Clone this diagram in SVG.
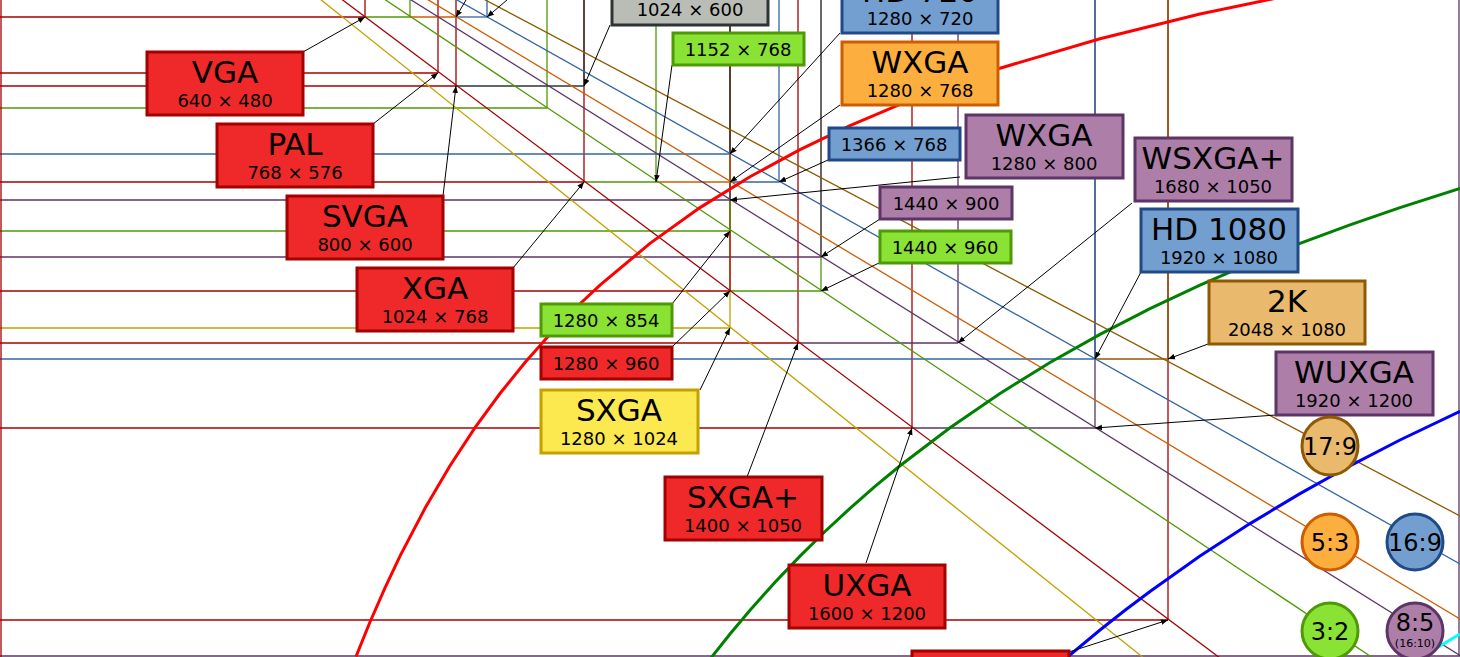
<svg xmlns="http://www.w3.org/2000/svg" width="1460" height="657" viewBox="0 0 1460 657">
<defs>
<style>
.ln{fill:none;stroke-width:1.3}
.r{stroke:#a40000}.g{stroke:#4e9a06}.o{stroke:#ce5c00}.b{stroke:#3465a4}.p{stroke:#5c3566}.br{stroke:#8f5902}.y{stroke:#c4a000}.k{stroke:#2e3436}
.cv{fill:none;stroke-width:3}
.box{stroke-width:3}
.fr{fill:#ef2929;stroke:#a40000}.fg{fill:#8ae234;stroke:#4e9a06}.fo{fill:#fcaf3e;stroke:#ce5c00}.fb{fill:#729fcf;stroke:#204a87}.fp{fill:#ad7fa8;stroke:#5c3566}.fbr{fill:#e9b96e;stroke:#8f5902}.fy{fill:#fce94f;stroke:#c4a000}.fk{fill:#babdb6;stroke:#2e3436}
text{font-family:"DejaVu Sans","Liberation Sans",sans-serif;text-anchor:middle;fill:#000}
.t{font-size:31px}.s{font-size:18px}.c{font-size:24px}
.ar{stroke:#000;stroke-width:1;fill:none;marker-end:url(#ah)}
</style>
<marker id="ah" viewBox="0 0 10 10" refX="10" refY="5" markerWidth="7" markerHeight="7" orient="auto"><path d="M0,1 L10,5 L0,9 z" fill="#000"/></marker>
</defs>
<rect width="1460" height="657" fill="#fff"/>
<g id="grid">
<line class="ln p" x1="0" y1="656" x2="1460" y2="656"/><line class="ln p" x1="1459" y1="0" x2="1459" y2="656"/>
<line class="ln r" x1="0" y1="620" x2="1168" y2="620"/><line class="ln r" x1="1168" y1="0" x2="1168" y2="620"/>
<line class="ln r" x1="0" y1="428" x2="912" y2="428"/><line class="ln p" x1="912" y1="428" x2="1095" y2="428"/>
<line class="ln r" x1="912" y1="0" x2="912" y2="428"/><line class="ln p" x1="1095" y1="0" x2="1095" y2="428"/>
<line class="ln b" x1="0" y1="359" x2="1095" y2="359"/><line class="ln br" x1="1095" y1="359" x2="1168" y2="359"/>
<line class="ln br" x1="1168" y1="0" x2="1168" y2="359"/><line class="ln b" x1="1095" y1="0" x2="1095" y2="359"/>
<line class="ln r" x1="0" y1="343" x2="798" y2="343"/><line class="ln p" x1="798" y1="343" x2="958" y2="343"/>
<line class="ln r" x1="798" y1="0" x2="798" y2="343"/><line class="ln p" x1="958" y1="0" x2="958" y2="343"/>
<line class="ln y" x1="0" y1="328" x2="730" y2="328"/><line class="ln y" x1="730" y1="0" x2="730" y2="328"/>
<line class="ln r" x1="0" y1="291" x2="730" y2="291"/><line class="ln g" x1="730" y1="291" x2="821" y2="291"/>
<line class="ln r" x1="730" y1="0" x2="730" y2="291"/><line class="ln g" x1="821" y1="0" x2="821" y2="291"/>
<line class="ln p" x1="0" y1="257" x2="821" y2="257"/><line class="ln p" x1="821" y1="0" x2="821" y2="257"/>
<line class="ln g" x1="0" y1="231" x2="730" y2="231"/><line class="ln g" x1="730" y1="0" x2="730" y2="231"/>
<line class="ln p" x1="0" y1="200" x2="730" y2="200"/><line class="ln p" x1="730" y1="0" x2="730" y2="200"/>
<line class="ln r" x1="0" y1="182" x2="584" y2="182"/><line class="ln g" x1="584" y1="182" x2="656" y2="182"/><line class="ln o" x1="656" y1="182" x2="730" y2="182"/><line class="ln b" x1="730" y1="182" x2="779" y2="182"/>
<line class="ln r" x1="584" y1="0" x2="584" y2="182"/><line class="ln g" x1="656" y1="0" x2="656" y2="182"/><line class="ln o" x1="730" y1="0" x2="730" y2="182"/><line class="ln b" x1="779" y1="0" x2="779" y2="182"/>
<line class="ln b" x1="0" y1="154" x2="730" y2="154"/><line class="ln k" x1="730" y1="0" x2="730" y2="154"/>
<line class="ln g" x1="0" y1="108" x2="547" y2="108"/><line class="ln g" x1="547" y1="0" x2="547" y2="108"/>
<line class="ln r" x1="0" y1="86" x2="456" y2="86"/><line class="ln k" x1="456" y1="86" x2="584" y2="86"/>
<line class="ln r" x1="456" y1="0" x2="456" y2="86"/><line class="ln k" x1="584" y1="0" x2="584" y2="86"/>
<line class="ln r" x1="0" y1="73" x2="438" y2="73"/><line class="ln r" x1="438" y1="0" x2="438" y2="73"/>
<line class="ln r" x1="0" y1="17" x2="365" y2="17"/><line class="ln g" x1="365" y1="17" x2="410" y2="17"/><line class="ln o" x1="410" y1="17" x2="456" y2="17"/><line class="ln b" x1="456" y1="17" x2="487" y2="17"/>
<line class="ln r" x1="365" y1="0" x2="365" y2="17"/><line class="ln g" x1="410" y1="0" x2="410" y2="17"/><line class="ln b" x1="487" y1="0" x2="487" y2="17"/>
<line class="ln r" x1="1" y1="0" x2="1" y2="657"/>
<line class="ln br" x1="0" y1="-257" x2="1460" y2="516"/>
<line class="ln b" x1="0" y1="-257" x2="1460" y2="564"/>
<line class="ln o" x1="0" y1="-257" x2="1460" y2="619"/>
<line class="ln p" x1="0" y1="-257" x2="1460" y2="655.5"/>
<line class="ln g" x1="0" y1="-257" x2="1460" y2="716"/>
<line class="ln r" x1="0" y1="-257" x2="1460" y2="838"/>
<line class="ln y" x1="0" y1="-257" x2="1460" y2="911"/>
<polyline class="cv" stroke="#f00" points="356,656.6 370,622 385,587.8 400,556.1 425,508.3 450,465.8 475,427.7 500,393.5 525,362.5 550,334.3 575,308.5 600,285.1 650,243.4 700,207.6 750,176.7 800,149.6 850,125.6 900,104.4 950,85.4 1000,68.2 1100,38.7 1200,14 1300,-6.8"/>
<polyline class="cv" stroke="#008000" points="711,657.9 730,634 750,610.3 775,582.3 800,556.1 825,531.5 850,508.3 875,486.4 900,465.8 950,427.7 1000,393.5 1050,362.5 1100,334.4 1150,308.6 1200,285.1 1250,263.4 1300,243.4 1350,224.8 1400,207.6 1460,188.5"/>
<polyline class="cv" stroke="#00f" points="1067,657.5 1100,630 1125,610.3 1150,591.5 1200,556.1 1250,523.6 1300,493.6 1350,465.8 1400,440 1460,411.3"/>
<polyline class="cv" stroke="#0ff" points="1423,657.2 1440,646 1460,634"/>
</g>
<g id="connectors">
<line class="ar" x1="303" y1="52" x2="365" y2="17"/>
<line class="ar" x1="373" y1="124" x2="438" y2="73"/>
<line class="ar" x1="443" y1="196" x2="456" y2="86"/>
<line class="ar" x1="513" y1="268" x2="584" y2="182"/>
<line class="ar" x1="610" y1="25" x2="584" y2="86"/>
<line class="ar" x1="672" y1="65" x2="656" y2="182"/>
<line class="ar" x1="840" y1="33" x2="730" y2="154"/>
<line class="ar" x1="840" y1="105" x2="730" y2="182"/>
<line class="ar" x1="828" y1="160" x2="779" y2="182"/>
<line class="ar" x1="960" y1="177" x2="730" y2="200"/>
<line class="ar" x1="880" y1="219" x2="821" y2="257"/>
<line class="ar" x1="879" y1="263" x2="821" y2="291"/>
<line class="ar" x1="672" y1="304" x2="730" y2="231"/>
<line class="ar" x1="672" y1="347" x2="730" y2="291"/>
<line class="ar" x1="700" y1="390" x2="730" y2="328"/>
<line class="ar" x1="747" y1="477" x2="798" y2="343"/>
<line class="ar" x1="866" y1="563" x2="912" y2="428"/>
<line class="ar" x1="1132" y1="203" x2="958" y2="343"/>
<line class="ar" x1="1141" y1="272" x2="1095" y2="359"/>
<line class="ar" x1="1208" y1="344" x2="1168" y2="359"/>
<line class="ar" x1="1276" y1="415" x2="1095" y2="428"/>
<line class="ar" x1="1069" y1="652" x2="1168" y2="620"/>
<line class="ar" x1="466" y1="0" x2="456" y2="17"/>
<line class="ar" x1="507" y1="0" x2="487" y2="17"/>
</g>
<g id="n-vga"><rect class="box fr" x="147" y="52" width="156" height="63"/><text class="t" x="225" y="83">VGA</text><text class="s" x="225" y="107">640 × 480</text></g>
<g id="n-pal"><rect class="box fr" x="217" y="124" width="156" height="63"/><text class="t" x="295" y="155">PAL</text><text class="s" x="295" y="179">768 × 576</text></g>
<g id="n-svga"><rect class="box fr" x="287" y="196" width="156" height="63"/><text class="t" x="365" y="227">SVGA</text><text class="s" x="365" y="251">800 × 600</text></g>
<g id="n-xga"><rect class="box fr" x="357" y="268" width="156" height="63"/><text class="t" x="435" y="299">XGA</text><text class="s" x="435" y="323">1024 × 768</text></g>
<g id="n-1024x600"><rect class="box fk" x="612" y="-40" width="156" height="65"/><text class="s" x="690" y="16">1024 × 600</text></g>
<g id="n-hd720"><rect class="box fb" x="842" y="-30" width="156" height="63"/><text class="t" x="920" y="2">HD 720</text><text class="s" x="920" y="25">1280 × 720</text></g>
<g id="n-1152"><rect class="box fg" x="673" y="33" width="131" height="32"/><text class="s" x="738" y="56">1152 × 768</text></g>
<g id="n-wxga768"><rect class="box fo" x="842" y="42" width="156" height="63"/><text class="t" x="920" y="73">WXGA</text><text class="s" x="920" y="97">1280 × 768</text></g>
<g id="n-1366"><rect class="box fb" x="829" y="128" width="131" height="32"/><text class="s" x="894" y="151">1366 × 768</text></g>
<g id="n-wxga800"><rect class="box fp" x="966" y="115" width="157" height="63"/><text class="t" x="1044" y="146">WXGA</text><text class="s" x="1044" y="170">1280 × 800</text></g>
<g id="n-1440x900"><rect class="box fp" x="880" y="187" width="132" height="32"/><text class="s" x="946" y="210">1440 × 900</text></g>
<g id="n-1440x960"><rect class="box fg" x="880" y="231" width="131" height="32"/><text class="s" x="945" y="254">1440 × 960</text></g>
<g id="n-wsxga"><rect class="box fp" x="1135" y="138" width="157" height="63"/><text class="t" x="1213" y="169">WSXGA+</text><text class="s" x="1213" y="193">1680 × 1050</text></g>
<g id="n-hd1080"><rect class="box fb" x="1141" y="209" width="157" height="63"/><text class="t" x="1219" y="240">HD 1080</text><text class="s" x="1219" y="264">1920 × 1080</text></g>
<g id="n-2k"><rect class="box fbr" x="1209" y="281" width="156" height="63"/><text class="t" x="1287" y="312">2K</text><text class="s" x="1287" y="336">2048 × 1080</text></g>
<g id="n-wuxga"><rect class="box fp" x="1276" y="352" width="157" height="63"/><text class="t" x="1354" y="383">WUXGA</text><text class="s" x="1354" y="407">1920 × 1200</text></g>
<g id="n-1280x854"><rect class="box fg" x="541" y="304" width="131" height="32"/><text class="s" x="606" y="327">1280 × 854</text></g>
<g id="n-1280x960"><rect class="box fr" x="541" y="347" width="131" height="32"/><text class="s" x="606" y="370">1280 × 960</text></g>
<g id="n-sxga"><rect class="box fy" x="541" y="390" width="157" height="63"/><text class="t" x="619" y="421">SXGA</text><text class="s" x="619" y="445">1280 × 1024</text></g>
<g id="n-sxgap"><rect class="box fr" x="665" y="477" width="157" height="63"/><text class="t" x="743" y="508">SXGA+</text><text class="s" x="743" y="532">1400 × 1050</text></g>
<g id="n-uxga"><rect class="box fr" x="789" y="565" width="156" height="63"/><text class="t" x="867" y="596">UXGA</text><text class="s" x="867" y="620">1600 × 1200</text></g>
<g id="n-qxga"><rect class="box fr" x="912" y="651" width="157" height="63"/></g>
<g id="a-17-9"><ellipse class="box fbr" cx="1330" cy="446" rx="28" ry="29"/><text class="c" x="1330" y="455">17:9</text></g>
<g id="a-5-3"><ellipse class="box fo" cx="1330" cy="542" rx="28" ry="28"/><text class="c" x="1330" y="551">5:3</text></g>
<g id="a-16-9"><ellipse class="box fb" cx="1415" cy="542" rx="28" ry="28"/><text class="c" x="1415" y="551">16:9</text></g>
<g id="a-3-2"><ellipse class="box fg" cx="1330" cy="631" rx="28" ry="28"/><text class="c" x="1330" y="640">3:2</text></g>
<g id="a-8-5"><ellipse class="box fp" cx="1415" cy="631" rx="28" ry="28"/><text class="c" x="1415" y="631">8:5</text><text x="1415" y="647" font-size="11">(16:10)</text></g>
</svg>
